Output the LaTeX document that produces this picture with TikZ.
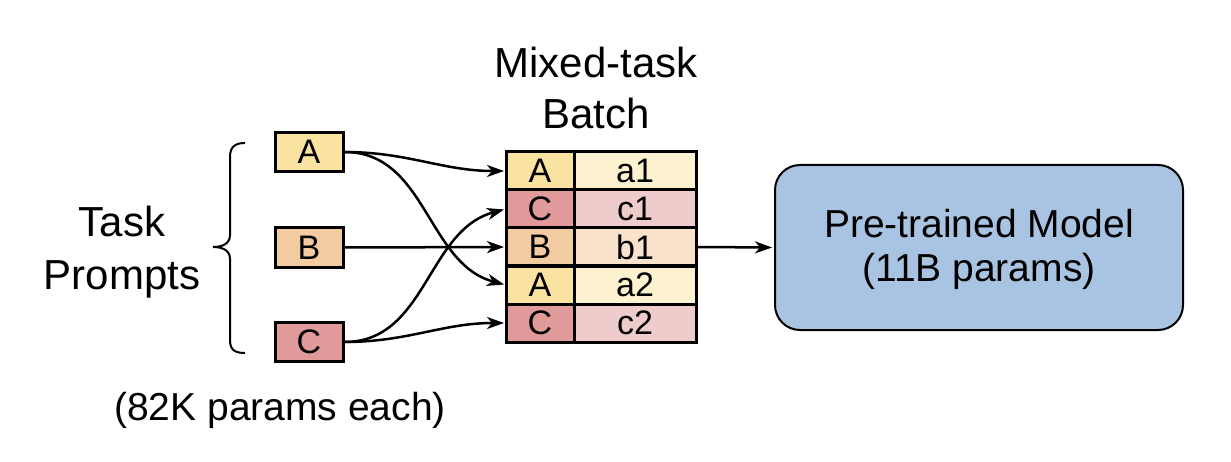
\documentclass[tikz,border=0pt]{standalone}
\usepackage{fontspec}
\setmainfont{Liberation Sans}
\usetikzlibrary{arrows.meta, positioning}

\begin{document}
\begin{tikzpicture}[x=0.5pt,y=0.5pt,>=Stealth]
\definecolor{ya}{HTML}{FAE3A0}
\definecolor{yl}{HTML}{FDF2D0}
\definecolor{ob}{HTML}{F3CBA0}
\definecolor{ol}{HTML}{F8E2CB}
\definecolor{rc}{HTML}{E09A9A}
\definecolor{rl}{HTML}{EFCCCC}
\definecolor{bm}{HTML}{A9C4E2}
\tikzset{
  txt/.style={align=center,font=\fontsize{19.5}{22}\selectfont},
  head/.style={align=center,font=\fontsize{21}{26}\selectfont},
  prompt/.style={draw,line width=1.5pt,minimum width=34pt,minimum height=19.5pt,inner sep=0pt,font=\fontsize{17}{18}\selectfont},
  tag/.style={draw,line width=1.5pt,minimum width=34pt,minimum height=19pt,inner sep=0pt,outer sep=0pt,font=\fontsize{17}{18}\selectfont},
  cell/.style={tag,minimum width=61pt},
  link/.style={line width=1.25pt,shorten >=1pt,arrows={-Stealth[length=8.5pt,width=6pt,inset=2.5pt]}}
}
\useasboundingbox (0,0) rectangle (1231,461);
% prompts
\node[prompt,fill=ya] (pA) at (309,309) {A};
\node[prompt,fill=ob] (pB) at (309,213.5) {B};
\node[prompt,fill=rc] (pC) at (309,119) {C};
\draw[line width=1pt] (245,318) .. controls (235,318) and (230,314) .. (230,304) -- (230,226)
  .. controls (230,217) and (222,214) .. (213,214) .. controls (222,214) and (230,211) .. (230,202)
  -- (230,121) .. controls (230,111) and (235,108) .. (245,108);
\node[head,font=\fontsize{21}{26.5}\selectfont] (tp) at (122,209) {Task\\Prompts};
\node[txt] (each) at (280,51) {(82K params each)};
% batch
\foreach \i/\t/\c/\tc/\cc [evaluate=\i as \y using 328-38*\i] in {1/A/a1/ya/yl,2/C/c1/rc/rl,3/B/b1/ob/ol,4/A/a2/ya/yl,5/C/c2/rc/rl}{
  \node[tag,fill=\tc] (t\i) at (540,\y) {\t};
  \node[cell,fill=\cc,right=0pt of t\i] (c\i) {\c};
}
\node[head,font=\fontsize{21}{25.5}\selectfont] (mix) at (596,373) {Mixed-task\\Batch};
% model
\node[draw,line width=1pt,fill=bm,rounded corners=12.5pt,minimum width=204pt,minimum height=82.5pt,txt,text depth=2pt] (model) at (979,213.5) {Pre-trained Model\\(11B params)};
% links
\draw[link] (pA.east) to[out=0,in=180] (t1.west);
\draw[link] (pA.east) to[out=0,in=165] (t4.west);
\draw[link] (pB.east) -- (t3.west);
\draw[link] (pC.east) to[out=0,in=195] (t2.west);
\draw[link] (pC.east) to[out=0,in=180] (t5.west);
\draw[link] (c3.east) -- (model.west);
\end{tikzpicture}
\end{document}
